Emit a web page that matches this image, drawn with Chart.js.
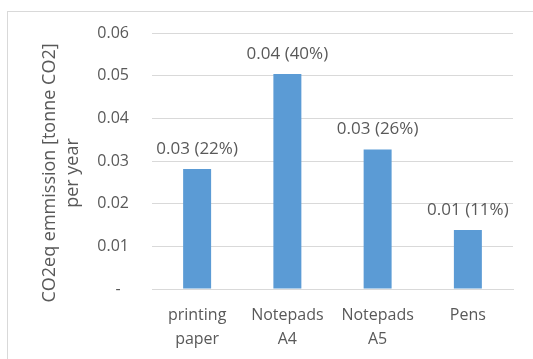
<!DOCTYPE html>
<html>
<head>
<meta charset="utf-8">
<script src="https://cdn.jsdelivr.net/npm/chart.js@4/dist/chart.umd.min.js"></script>
<style>
  html, body { margin: 0; padding: 0; background: #ffffff; }
  #wrap { width: 533px; height: 359px; position: relative; }
</style>
</head>
<body>
<div id="wrap"><canvas id="c" width="533" height="359"></canvas></div>
<script>
// Annual CO2eq emission per office supply item
const categories = [['printing', 'paper'], ['Notepads', 'A4'], ['Notepads', 'A5'], 'Pens'];
const emissions = [0.0281, 0.0504, 0.0327, 0.0138];
const valueLabels = ['0.03 (22%)', '0.04 (40%)', '0.03 (26%)', '0.01 (11%)'];
const yTicks = [0, 0.01, 0.02, 0.03, 0.04, 0.05, 0.06];
const yTitle = ['CO2eq emmission [tonne CO2]', 'per year'];

const TEXT = '#595959';
const GRID = '#d9d9d9';
const FONT = '"Open Sans", Lato, sans-serif';

// Light frame around the whole chart
const framePlugin = {
  id: 'frame',
  beforeDraw(chart) {
    const ctx = chart.ctx;
    ctx.save();
    ctx.fillStyle = '#ffffff';
    ctx.fillRect(0, 0, chart.width, chart.height);
    ctx.strokeStyle = '#d9d9d9';
    ctx.lineWidth = 1;
    ctx.strokeRect(7.5, 11.5, chart.width + 10, chart.height + 10);
    ctx.restore();
  }
};

// Value labels above each bar
const valueLabelPlugin = {
  id: 'valueLabels',
  afterDatasetsDraw(chart) {
    const ctx = chart.ctx;
    const meta = chart.getDatasetMeta(0);
    ctx.save();
    ctx.font = '17px ' + FONT;
    ctx.fillStyle = TEXT;
    ctx.textAlign = 'center';
    ctx.textBaseline = 'alphabetic';
    meta.data.forEach((bar, i) => {
      ctx.fillText(valueLabels[i], bar.x, bar.y - 15);
    });
    ctx.restore();
  }
};

// Two-line rotated title of the value axis
const axisTitlePlugin = {
  id: 'axisTitle',
  afterDraw(chart) {
    const ctx = chart.ctx;
    const area = chart.chartArea;
    const cy = (area.top + area.bottom) / 2 + 12;
    const baselines = [55, 78];
    ctx.save();
    ctx.font = '18px ' + FONT;
    ctx.fillStyle = TEXT;
    ctx.textAlign = 'center';
    ctx.textBaseline = 'alphabetic';
    yTitle.forEach((line, i) => {
      ctx.save();
      ctx.translate(baselines[i], cy);
      ctx.rotate(-Math.PI / 2);
      ctx.fillText(line, 0, 0);
      ctx.restore();
    });
    ctx.restore();
  }
};

new Chart(document.getElementById('c'), {
  type: 'bar',
  data: {
    labels: categories,
    datasets: [{
      data: emissions,
      backgroundColor: '#5b9bd5',
      borderWidth: 0,
      barPercentage: 0.31,
      categoryPercentage: 1.0
    }]
  },
  options: {
    responsive: false,
    animation: false,
    devicePixelRatio: 1,
    layout: { padding: { left: 7, top: 33, right: 20, bottom: 8 } },
    plugins: {
      legend: { display: false },
      tooltip: { enabled: false }
    },
    scales: {
      x: {
        grid: { display: false, drawTicks: false },
        border: { display: true, color: GRID, width: 1 },
        ticks: {
          color: TEXT,
          font: { family: FONT, size: 16, lineHeight: 1.5 },
          padding: 14,
          maxRotation: 0,
          autoSkip: false
        },
        afterFit(scale) { scale.height = 62; }
      },
      y: {
        min: 0,
        max: 0.06,
        afterBuildTicks(scale) { scale.ticks = yTicks.map(v => ({ value: v })); },
        grid: { color: GRID, lineWidth: 1, drawTicks: false },
        border: { display: false },
        ticks: {
          color: TEXT,
          font: { family: FONT, size: 16 },
          padding: 23,
          callback: v => (v === 0 ? '-  ' : v.toFixed(2))
        },
        afterFit(scale) { scale.width = 145; }
      }
    }
  },
  plugins: [framePlugin, valueLabelPlugin, axisTitlePlugin]
});
</script>
</body>
</html>
